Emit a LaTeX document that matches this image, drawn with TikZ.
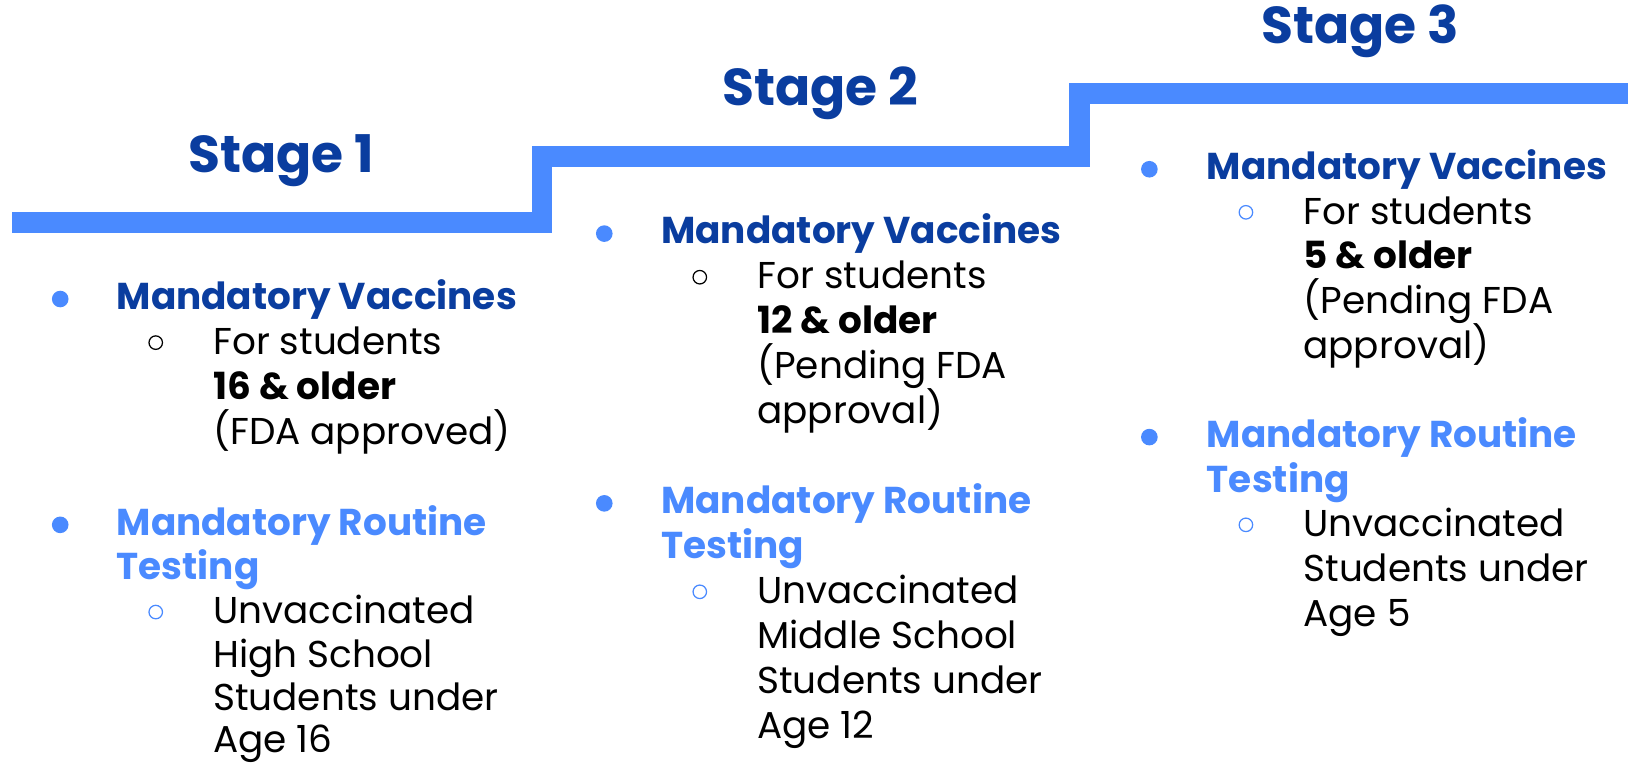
\documentclass[tikz,border=0pt]{standalone}
\usepackage{fontspec}
\setmainfont{Poppins}
\definecolor{stairblue}{HTML}{4A8AFF}
\definecolor{headblue}{HTML}{0A3D9F}

\begin{document}
\begin{tikzpicture}[x=0.5pt, y=-0.5pt,
    title/.style={font=\fontsize{25}{30}\selectfont\bfseries, text=headblue, inner sep=0pt, anchor=base},
    head/.style={font=\fontsize{18}{22}\selectfont\bfseries, text=headblue, inner sep=0pt, anchor=base west},
    test/.style={head, text=stairblue},
    body/.style={font=\fontsize{18}{22}\selectfont, inner sep=0pt, anchor=base west},
    dot/.style={circle, fill=stairblue, inner sep=0pt, minimum size=8pt},
    ring/.style={circle, draw=#1, line width=0.6pt, inner sep=0pt, minimum size=6.5pt},
    stair/.style={draw=stairblue, line width=10pt, line join=miter}]
          \useasboundingbox (0,0) rectangle (1568,737);

          \draw [stair] (12,214.5) -- (522,214.5) -- (522,151) -- (1040,151) -- (1040,90) -- (1568,90); % Draws the steps

          % Stage 1
          \node [title] (t1) at (271,166) {Stage 1};
          \node [dot] (d1a) at (58,288) {};
          \node [head] (h1a) at (112,298) {Mandatory Vaccines};
          \node [ring=black] (r1a) at (150,330) {};
          \node [body] (b1a) at (205,341.5) {For students};
          \node [body] (b1b) at (205,385) {\textbf{16 \& older}};
          \node [body] (b1c) at (205,428.5) {(FDA approved)};
          \node [dot] (d1b) at (58,505.5) {};
          \node [test] (h1b) at (112,515.5) {Mandatory Routine};
          \node [test] (h1c) at (112,558.5) {Testing};
          \node [ring=stairblue] (r1b) at (150,589.5) {};
          \node [body] (b1d) at (205,601) {Unvaccinated};
          \node [body] (b1e) at (205,642.5) {High School};
          \node [body] (b1f) at (205,684) {Students under};
          \node [body] (b1g) at (205,725) {Age 16};

          % Stage 2
          \node [title] (t2) at (790,102) {Stage 2};
          \node [dot] (d2a) at (582,225) {};
          \node [head] (h2a) at (636.5,235) {Mandatory Vaccines};
          \node [ring=black] (r2a) at (674,267) {};
          \node [body] (b2a) at (729,278.3) {For students};
          \node [body] (b2b) at (729,321.6) {\textbf{12 \& older}};
          \node [body] (b2c) at (729,364.9) {(Pending FDA};
          \node [body] (b2d) at (729,408.2) {approval)};
          \node [dot] (d2b) at (582,484.8) {};
          \node [test] (h2b) at (636.5,494.8) {Mandatory Routine};
          \node [test] (h2c) at (636.5,538.1) {Testing};
          \node [ring=stairblue] (r2b) at (674,570) {};
          \node [body] (b2e) at (729,581.4) {Unvaccinated};
          \node [body] (b2f) at (729,624.7) {Middle School};
          \node [body] (b2g) at (729,668) {Students under};
          \node [body] (b2h) at (729,711.3) {Age 12};

          % Stage 3
          \node [title] (t3) at (1310,42) {Stage 3};
          \node [dot] (d3a) at (1107,163) {};
          \node [head] (h3a) at (1162,173) {Mandatory Vaccines};
          \node [ring=stairblue] (r3a) at (1200,204.5) {};
          \node [body] (b3a) at (1255,216) {For students};
          \node [body] (b3b) at (1255,259) {\textbf{5 \& older}};
          \node [body] (b3c) at (1255,302) {(Pending FDA};
          \node [body] (b3d) at (1255,345) {approval)};
          \node [dot] (d3b) at (1107,421) {};
          \node [test] (h3b) at (1162,431) {Mandatory Routine};
          \node [test] (h3c) at (1162,474) {Testing};
          \node [ring=stairblue] (r3b) at (1200,505.5) {};
          \node [body] (b3e) at (1255,517) {Unvaccinated};
          \node [body] (b3f) at (1255,560) {Students under};
          \node [body] (b3g) at (1255,603) {Age 5};
        \end{tikzpicture}
\end{document}
